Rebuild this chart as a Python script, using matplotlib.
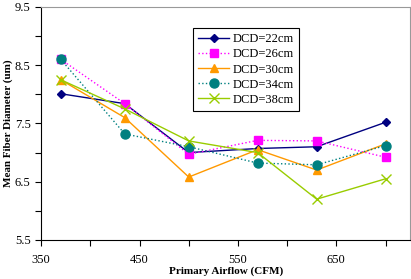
import matplotlib.pyplot as plt

airflow = [370, 435, 500, 570, 630, 700]
dcd22 = [8.01, 7.84, 7.00, 7.07, 7.10, 7.52]
dcd26 = [8.60, 7.84, 6.97, 7.21, 7.20, 6.92]
dcd30 = [8.25, 7.60, 6.58, 7.05, 6.70, 7.15]
dcd34 = [8.60, 7.32, 7.10, 6.82, 6.79, 7.12]
dcd38 = [8.25, 7.75, 7.20, 7.00, 6.20, 6.55]

x_major = [350, 450, 550, 650]
x_minor = [400, 500, 600, 700]
y_major = [5.5, 6.5, 7.5, 8.5, 9.5]
y_minor = [6.0, 7.0, 8.0, 9.0]

plt.rcParams['font.family'] = ['Liberation Serif', 'DejaVu Serif']

fig = plt.figure(figsize=(4.11, 2.79), dpi=100)
ax = fig.add_axes([0.1, 0.14, 0.898, 0.835])

ax.plot(airflow, dcd22, color='#000080', marker='D', markersize=4, lw=1, label='DCD=22cm')
ax.plot(airflow, dcd26, color='#FF00FF', marker='s', markersize=6, lw=1, ls=':', label='DCD=26cm')
ax.plot(airflow, dcd30, color='#FF9900', marker='^', markersize=6, lw=1, label='DCD=30cm')
ax.plot(airflow, dcd34, color='#008080', marker='o', markersize=6.5, lw=1, ls=':', label='DCD=34cm')
ax.plot(airflow, dcd38, color='#99CC00', marker='x', markersize=7, mew=1, lw=1, label='DCD=38cm')

ax.set_xlim(350, 725)
ax.set_ylim(5.5, 9.5)
ax.set_xticks(x_major)
ax.set_xticks(x_minor, minor=True)
ax.set_yticks(y_major)
ax.set_yticks(y_minor, minor=True)
ax.set_yticklabels(['%.1f' % v for v in y_major])
ax.tick_params(which='both', direction='out', length=4, width=0.8, labelsize=9)
ax.tick_params(axis='x', pad=6)

for s in ['top', 'right']:
    ax.spines[s].set_color('#999999')
    ax.spines[s].set_linewidth(0.8)

ax.set_xlabel('Primary Airflow (CFM)', fontsize=8, fontweight='bold')
ax.set_ylabel('Mean Fiber Diameter (um)', fontsize=8, fontweight='bold')
ax.xaxis.set_label_coords(0.5, -0.115)
ax.yaxis.set_label_coords(-0.075, 0.5)

leg = ax.legend(loc='upper left', bbox_to_anchor=(0.395, 0.935), fontsize=9,
                frameon=True, fancybox=False, edgecolor='black', framealpha=1,
                handlelength=2.5, labelspacing=0.25, borderpad=0.4, handletextpad=0.3)
leg.get_frame().set_linewidth(0.8)

fig.savefig('out.png', dpi=100)
